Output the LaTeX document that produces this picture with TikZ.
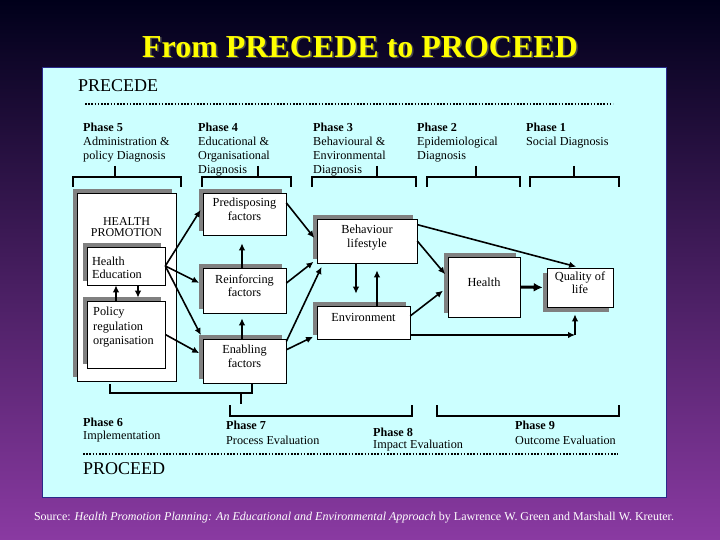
\documentclass[tikz,border=0pt]{standalone}
\usepackage{fontspec}
\setmainfont{Liberation Serif}
\usepackage{xcolor}
\usetikzlibrary{arrows.meta,shadows}
\definecolor{slidetop}{HTML}{00001A}
\definecolor{slidemid}{HTML}{1E1E7E}
\definecolor{slidebot}{HTML}{8A3AA2}
\definecolor{panelcyan}{HTML}{CCFFFF}
\definecolor{panelrim}{HTML}{2A2A8A}
\definecolor{boxshade}{HTML}{808080}
\definecolor{titleyellow}{HTML}{FFFF00}

\begin{document}
\begin{tikzpicture}[x=1pt,y=-1pt,>={Latex[length=7pt,width=6.5pt]}]
  \tikzstyle{plain}=[draw=black,line width=0.6pt,fill=white,inner sep=2pt,align=center,text depth=10pt,font=\fontsize{12.3}{13.5}\selectfont]
  \tikzstyle{factor}=[plain,general shadow={fill=boxshade,shadow xshift=-4pt,shadow yshift=4pt}]
  \tikzstyle{lowfactor}=[plain,general shadow={fill=boxshade,shadow xshift=-4pt,shadow yshift=-5pt}]
  \tikzstyle{phase}=[anchor=north west,align=left,inner sep=0pt,font=\fontsize{12.2}{14}\selectfont]
  \tikzstyle{arr}=[->,line width=1.6pt,shorten >=4pt]
  \tikzstyle{brk}=[line width=2.2pt]
  \tikzstyle{dots}=[line width=1.6pt,dash pattern=on 1.6pt off 1.6pt]
  % slide, panel and title
  \shade[top color=slidetop,middle color=slidemid,bottom color=slidebot] (0,0) rectangle (720,540);
  \draw[panelrim,line width=0.8pt,fill=panelcyan] (42,67) rectangle (666,497);
  \node[text=black!70,font=\fontsize{32}{32}\selectfont\bfseries] (titleshade) at (361.5,48.5) {From PRECEDE to PROCEED};
  \node[text=titleyellow,font=\fontsize{32}{32}\selectfont\bfseries] (title) at (360,47) {From PRECEDE to PROCEED};
  % PRECEDE header
  \node[anchor=base west,inner sep=0pt,font=\fontsize{18}{18}\selectfont] (precede) at (78,92) {PRECEDE};
  \draw[dots] (85,104) -- (613,104);
  \node[phase] (ph5) at (83,122.5) {\textbf{Phase 5}\\Administration \&\\policy Diagnosis};
  \node[phase] (ph4) at (198,122.5) {\textbf{Phase 4}\\Educational \&\\Organisational\\Diagnosis};
  \node[phase] (ph3) at (313,122.5) {\textbf{Phase 3}\\Behavioural \&\\Environmental\\Diagnosis};
  \node[phase] (ph2) at (417,122.5) {\textbf{Phase 2}\\Epidemiological\\Diagnosis};
  \node[phase] (ph1) at (526,122.5) {\textbf{Phase 1}\\Social Diagnosis};
  \foreach \l/\r/\s in {73/181/115,202/291/258,312/416/377,427/520/476,530/619/574}
    \draw[brk] (\l,187) -- (\l,177) -- (\r,177) -- (\r,187) (\s,166) -- (\s,177);
  % boxes
  \node[factor,minimum width=99pt,minimum height=188pt] (hp) at (126.5,287) {};
  \node[align=center,inner sep=0pt,font=\fontsize{12}{11.5}\selectfont] (hplabel) at (126.5,227) {HEALTH\\PROMOTION};
  \node[factor,minimum width=78pt,minimum height=38pt,text width=68pt,align=left] (he) at (126,266) {Health\\Education};
  \node[factor,minimum width=78pt,minimum height=67pt] (pol) at (126,334.5) {};
  \node[phase,font=\fontsize{12.3}{14.5}\selectfont] (poltext) at (93,307) {Policy\\regulation\\organisation};
  \node[factor,minimum width=83pt,minimum height=42pt] (pre) at (244.5,214) {Predisposing\\factors};
  \node[factor,minimum width=83pt,minimum height=45pt] (rein) at (244.5,290.5) {Reinforcing\\factors};
  \node[factor,minimum width=83pt,minimum height=44pt] (enab) at (244.5,361) {Enabling\\factors};
  \node[factor,minimum width=100pt,minimum height=44pt] (beh) at (367,241) {Behaviour\\lifestyle};
  \node[factor,minimum width=93pt,minimum height=33pt] (env) at (363.5,322.5) {Environment};
  \node[factor,minimum width=72pt,minimum height=60pt] (health) at (484,287) {Health};
  \node[lowfactor,minimum width=66pt,minimum height=39pt] (qol) at (580,287.5) {Quality of\\life};
  \coordinate (qcorner) at (575,335);
  % arrows
  \draw[arr,shorten >=0pt] ([xshift=-10pt]pol.north) -- ([xshift=-10pt]he.south);
  \draw[arr,shorten >=3pt] ([xshift=12pt]he.south) -- ([xshift=12pt]pol.north);
  \draw[arr] (he.east) -- (pre.170);
  \draw[arr] (he.east) -- (rein.172);
  \draw[arr] (he.east) -- (enab.north west);
  \draw[arr] (pol.east) -- (enab.172);
  \draw[arr,shorten >=8pt] ([xshift=-2.5pt]rein.north) -- ([xshift=-2.5pt]pre.south);
  \draw[arr,shorten >=5pt] ([xshift=-2.5pt]enab.north) -- ([xshift=-2.5pt]rein.south);
  \draw[arr] (pre.15) -- (beh.west);
  \draw[arr] (rein.10) -- (beh.200);
  \draw[arr] (enab.25) -- (beh.207);
  \draw[arr] (enab.15) -- (env.195);
  \draw[arr,shorten >=12pt] ([xshift=-11pt]beh.south) -- ([xshift=-7.5pt]env.north);
  \draw[arr,shorten >=7pt] ([xshift=13.5pt]env.north) -- ([xshift=10pt]beh.south);
  \draw[arr] (beh.east) -- (health.165);
  \draw[arr,shorten >=6pt] (env.8) -- (health.west);
  \draw[arr] (beh.18) -- (qol.north);
  \draw[-{Latex[length=9pt,width=9pt]},line width=3pt,shorten >=4pt] (health.east) -- (qol.west);
  \draw[arr,shorten >=0pt] (env.-15) -- (qcorner);
  \draw[arr,shorten >=7pt] (qcorner) -- (qcorner |- qol.south);
  % PROCEED footer
  \draw[brk] (110,384) -- (110,393) -- (252,393) -- (252,384) (241,393) -- (241,404);
  \foreach \l/\r in {230/412,437/619}
    \draw[brk] (\l,405) -- (\l,416) -- (\r,416) -- (\r,405);
  \node[phase] (ph6) at (83,417.5) {\textbf{Phase 6}\\[-1pt]Implementation};
  \node[phase] (ph7) at (226,420.5) {\textbf{Phase 7}\\[1.5pt]Process Evaluation};
  \node[phase] (ph8) at (373,428) {\textbf{Phase 8}\\[-2pt]Impact Evaluation};
  \node[phase] (ph9) at (515,420.5) {\textbf{Phase 9}\\[1.5pt]Outcome Evaluation};
  \draw[dots] (83,454) -- (618,454);
  \node[anchor=base west,inner sep=0pt,font=\fontsize{18}{18}\selectfont] (proceed) at (83,474) {PROCEED};
  \node[text=white,font=\fontsize{12}{14}\selectfont] (source) at (354,518) {Source: \textit{Health Promotion Planning: An Educational and Environmental Approach} by Lawrence W. Green and Marshall W. Kreuter.};
\end{tikzpicture}
\end{document}
